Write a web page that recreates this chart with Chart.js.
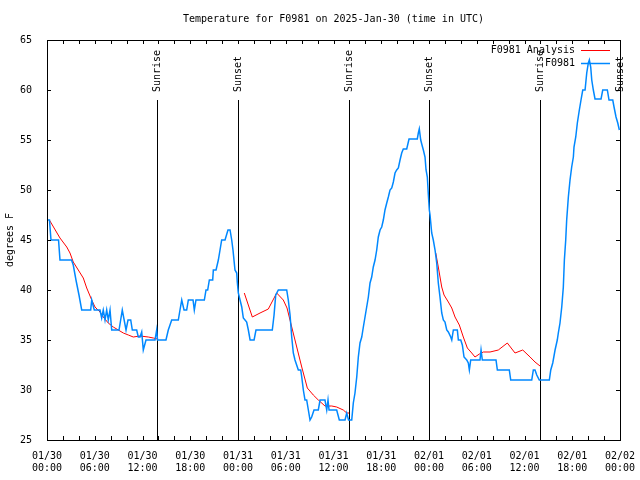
<!DOCTYPE html>
<html>
<head>
<meta charset="utf-8">
<script src="https://cdn.jsdelivr.net/npm/chart.js@4"></script>
<style>
  body { margin: 0; background: #fff; }
  canvas { display: block; }
</style>
</head>
<body>
<canvas id="chart" width="640" height="480"></canvas>
<script>
// hours since 01/30 00:00 UTC
const obsHours = [
  0, 0.31, 0.50, 1.45, 1.63, 3.08, 3.30, 3.64, 4.02, 4.36, 5.49, 5.62, 5.94, 6.66, 6.87, 7.07, 7.29, 7.50, 7.70, 7.92,
  8.13, 9.05, 9.46, 9.93, 10.18, 10.52, 10.72, 11.27, 11.47, 11.69, 11.90, 12.10, 12.44, 13.57, 13.78, 13.89, 14.95, 15.24, 15.67, 16.50,
  16.71, 16.93, 17.22, 17.55, 17.76, 18.35, 18.51, 18.72, 19.77, 19.98, 20.19, 20.40, 20.82, 20.90, 21.24, 21.53, 21.74, 21.95, 22.37, 22.74,
  23.00, 23.21, 23.37, 23.62, 23.84, 23.91, 24.04, 24.47, 24.67, 24.88, 25.09, 25.30, 25.52, 26.02, 26.26, 28.31, 28.53, 28.74, 29.07, 30.12,
  30.32, 30.54, 30.75, 30.95, 31.16, 31.58, 31.88, 32.01, 32.21, 32.42, 32.63, 32.84, 33.05, 33.26, 33.55, 34.09, 34.31, 34.93, 35.15, 35.31,
  35.44, 36.40, 36.73, 37.45, 37.66, 37.89, 38.29, 38.49, 38.70, 38.92, 39.12, 39.33, 39.55, 39.75, 39.96, 40.17, 40.38, 40.59, 40.80, 41.00,
  41.22, 41.43, 41.63, 41.85, 42.06, 42.26, 42.47, 42.69, 42.89, 43.10, 43.32, 43.52, 43.73, 43.94, 44.15, 44.36, 44.57, 44.77, 45.20, 45.49,
  46.53, 46.66, 46.78, 46.96, 47.12, 47.29, 47.50, 47.63, 47.79, 47.92, 48.04, 48.13, 48.34, 48.54, 48.76, 48.97, 49.17, 49.38, 49.60, 49.80,
  50.01, 50.23, 50.43, 50.73, 50.86, 51.06, 51.56, 51.69, 51.99, 52.19, 52.40, 52.74, 52.94, 53.07, 53.24, 54.41, 54.54, 54.70, 56.42, 56.59,
  58.09, 58.27, 60.91, 61.11, 61.32, 61.54, 61.86, 63.12, 63.30, 63.55, 63.84, 64.12, 64.25, 64.46, 64.68, 64.88, 65.01, 65.18, 65.30, 65.51,
  65.72, 65.93, 66.14, 66.22, 66.44, 66.64, 66.89, 67.10, 67.32, 67.61, 67.82, 68.02, 68.15, 68.32, 68.45, 68.65, 68.86, 69.62, 69.83, 70.41,
  70.62, 71.09, 71.25, 71.50, 71.72, 71.92
];
const obsTemps = [
  47, 47, 45, 45, 43, 43, 42.5, 41, 39.5, 38, 38, 39, 38, 38, 37.2, 38, 37, 38, 37, 38,
  36, 36, 38, 36, 37, 37, 36, 36, 35.3, 35.3, 35.8, 34, 35, 35, 36, 35, 35, 36, 37, 37,
  38, 39, 38, 38, 39, 39, 38, 39, 39, 40, 40, 41, 41, 42, 42, 43, 44, 45, 45, 46,
  46, 45, 44, 42, 41.7, 40.8, 39.7, 38.3, 37.2, 37, 36.8, 36, 35, 35, 36, 36, 37.5, 39.5, 40, 40,
  39, 37.5, 35.3, 33.7, 33, 32, 32, 31.3, 30, 29, 29, 28, 27, 27.3, 28, 28, 29, 29, 28, 29,
  28, 28, 27, 27, 27.7, 27, 27, 28.7, 29.7, 31.3, 33.3, 34.7, 35.3, 36.3, 37.3, 38.3, 39.3, 40.7, 41.3, 42.3,
  43, 44, 45.3, 46, 46.3, 47, 48, 48.7, 49.3, 50, 50.2, 50.8, 51.7, 52, 52.2, 53, 53.7, 54.1, 54.1, 55.1,
  55.1, 55.7, 56.1, 55, 54.5, 54, 53.3, 52, 51.3, 49.5, 48, 47.5, 45.7, 45, 44, 42.7, 40.7, 39.3, 37.7, 37,
  36.8, 36, 35.8, 35.3, 35, 36, 36, 35, 35, 34.5, 33.3, 33, 32.7, 32, 33, 33, 34, 33, 33, 32,
  32, 31, 31, 32, 32, 31.5, 31, 31, 32, 32.7, 34, 35, 35.7, 36.7, 38.3, 40.3, 43, 45, 47, 49.3,
  51, 52.3, 53.3, 54.3, 55.3, 56.7, 58, 59, 60, 60, 61.7, 62.7, 63, 62.3, 61, 60, 59.1, 59.1, 60, 60,
  59, 59, 58.3, 57.3, 56.7, 56
];
// analysis, null = no analysis
const anaHours = [
  0.3, 1.63, 2.48, 2.89, 3.30, 3.93, 4.56, 4.99, 5.62, 6.03, 6.66, 7.07, 7.70, 8.33, 8.96, 9.59, 10.22, 10.84, 11.69, 12.73, 13.36, 13.86,
  19,
  24.79, 25.80, 26.77, 27.81, 28.86, 29.69, 30.16, 30.75, 31.38, 32.01, 32.71, 33.46, 34.09, 34.93, 35.78, 36.40, 37.23, 37.66, 37.95,
  43,
  48.85, 49.17, 49.60, 49.89, 50.43, 50.86, 51.27, 51.81, 52.31, 52.82, 53.37, 53.78, 54.33, 54.83, 55.67, 56.71, 57.84, 58.81, 59.78, 60.70, 61.32, 61.95
];
const anaTemps = [
  47, 45.2, 44.3, 43.7, 42.8, 42, 41.2, 40.2, 39, 38.3, 37.8, 37.3, 36.7, 36.3, 36, 35.7, 35.5, 35.3, 35.4, 35.3, 35.2, 35.1,
  null,
  39.7, 37.3, 37.7, 38.1, 39.7, 39, 38.2, 36.3, 34.3, 32.3, 30.2, 29.5, 29, 28.4, 28.4, 28.3, 28, 27.7, 27.7,
  null,
  43.7, 42.3, 40.3, 39.5, 38.8, 38.2, 37.3, 36.5, 35.3, 34.2, 33.7, 33.3, 33.6, 33.8, 33.8, 34, 34.7, 33.7, 34, 33.3, 32.8, 32.4
];
const sunHours = [13.85, 23.95, 37.95, 48.0, 62.0, 72.0];
const sunLabels = ['Sunrise', 'Sunset', 'Sunrise', 'Sunset', 'Sunrise', 'Sunset'];
const tickDays = ['01/30', '01/30', '01/30', '01/30', '01/31', '01/31', '01/31', '01/31', '02/01', '02/01', '02/01', '02/01', '02/02'];
const tickTimes = ['00:00', '06:00', '12:00', '18:00', '00:00', '06:00', '12:00', '18:00', '00:00', '06:00', '12:00', '18:00', '00:00'];
const titleText = 'Temperature for F0981 on 2025-Jan-30 (time in UTC)';
const yTitle = 'degrees F';
const seriesNames = ['F0981 Analysis', 'F0981'];

const FONT = '10px "DejaVu Sans Mono", monospace';
const RED = '#ff0000', BLUE = 'rgb(0,136,255)';

// gnuplot-like frame, ticks, sun markers, labels and key
const decor = {
  id: 'decor',
  beforeDatasetsDraw(chart) {
    const { ctx, chartArea: a, scales: { x } } = chart;
    ctx.save();
    ctx.strokeStyle = '#000';
    ctx.lineWidth = 1;
    ctx.fillStyle = '#000';
    ctx.font = FONT;
    sunHours.forEach((h, i) => {
      const px = Math.round(x.getPixelForValue(h)) + 0.5;
      ctx.beginPath();
      ctx.moveTo(px, a.top + 60);
      ctx.lineTo(px, a.bottom);
      ctx.stroke();
      ctx.save();
      ctx.translate(px, a.top + 52);
      ctx.rotate(-Math.PI / 2);
      ctx.textAlign = 'left';
      ctx.textBaseline = 'middle';
      ctx.fillText(sunLabels[i], 0, 0);
      ctx.restore();
    });
    ctx.restore();
  },
  afterDatasetsDraw(chart) {
    const { ctx, chartArea: a, scales: { x, y } } = chart;
    ctx.save();
    ctx.strokeStyle = '#000';
    ctx.lineWidth = 1;
    ctx.strokeRect(a.left + 0.5, a.top + 0.5, a.right - a.left, a.bottom - a.top);
    const tl = 4;
    ctx.beginPath();
    for (let h = 0; h <= 72; h += 2) {
      const px = Math.round(x.getPixelForValue(h)) + 0.5;
      ctx.moveTo(px, a.bottom); ctx.lineTo(px, a.bottom - tl);
      ctx.moveTo(px, a.top); ctx.lineTo(px, a.top + tl);
    }
    for (let t = 25; t <= 65; t += 5) {
      const py = Math.round(y.getPixelForValue(t)) + 0.5;
      ctx.moveTo(a.left, py); ctx.lineTo(a.left + tl, py);
      ctx.moveTo(a.right, py); ctx.lineTo(a.right - tl, py);
    }
    ctx.stroke();

    ctx.fillStyle = '#000';
    ctx.font = FONT;
    ctx.textBaseline = 'middle';
    ctx.textAlign = 'center';
    ctx.fillText(titleText, (a.left + a.right) / 2, 19);

    ctx.save();
    ctx.translate(10, (a.top + a.bottom) / 2);
    ctx.rotate(-Math.PI / 2);
    ctx.fillText(yTitle, 0, 0);
    ctx.restore();

    // key
    const colors = [RED, BLUE];
    seriesNames.forEach((name, i) => {
      const ky = a.top + 10 + i * 13;
      ctx.textAlign = 'right';
      ctx.fillStyle = '#000';
      ctx.fillText(name, 575, ky);
      ctx.strokeStyle = colors[i];
      ctx.lineWidth = i ? 1.5 : 1;
      ctx.beginPath();
      ctx.moveTo(581, ky + 0.5);
      ctx.lineTo(610, ky + 0.5);
      ctx.stroke();
    });
    ctx.restore();
  }
};

new Chart(document.getElementById('chart'), {
  type: 'line',
  data: {
    datasets: [
      {
        label: seriesNames[1],
        data: obsHours.map((h, i) => ({ x: h, y: obsTemps[i] })),
        borderColor: BLUE,
        borderWidth: 1.5,
        pointRadius: 0,
        tension: 0
      },
      {
        label: seriesNames[0],
        data: anaHours.map((h, i) => ({ x: h, y: anaTemps[i] })),
        borderColor: RED,
        borderWidth: 1,
        pointRadius: 0,
        tension: 0,
        spanGaps: false
      }
    ]
  },
  options: {
    responsive: false,
    animation: false,
    devicePixelRatio: 1,
    layout: { padding: { top: 40, right: 20, left: 0, bottom: 0 } },
    plugins: { legend: { display: false }, title: { display: false }, tooltip: { enabled: false } },
    scales: {
      x: {
        type: 'linear',
        min: 0, max: 72,
        grid: { display: false },
        border: { display: false },
        afterFit: s => { s.height = 40; s.paddingLeft = 0; s.paddingRight = 0; },
        ticks: {
          stepSize: 6,
          autoSkip: false,
          maxRotation: 0,
          padding: 2,
          color: '#000',
          font: { family: '"DejaVu Sans Mono", monospace', size: 10 },
          callback: v => [tickDays[v / 6], tickTimes[v / 6]]
        }
      },
      y: {
        min: 25, max: 65,
        grid: { display: false },
        border: { display: false },
        afterFit: s => { s.width = 47; s.paddingTop = 0; s.paddingBottom = 0; },
        ticks: {
          stepSize: 5,
          padding: 7,
          color: '#000',
          font: { family: '"DejaVu Sans Mono", monospace', size: 10 }
        }
      }
    }
  },
  plugins: [decor]
});
</script>
</body>
</html>
